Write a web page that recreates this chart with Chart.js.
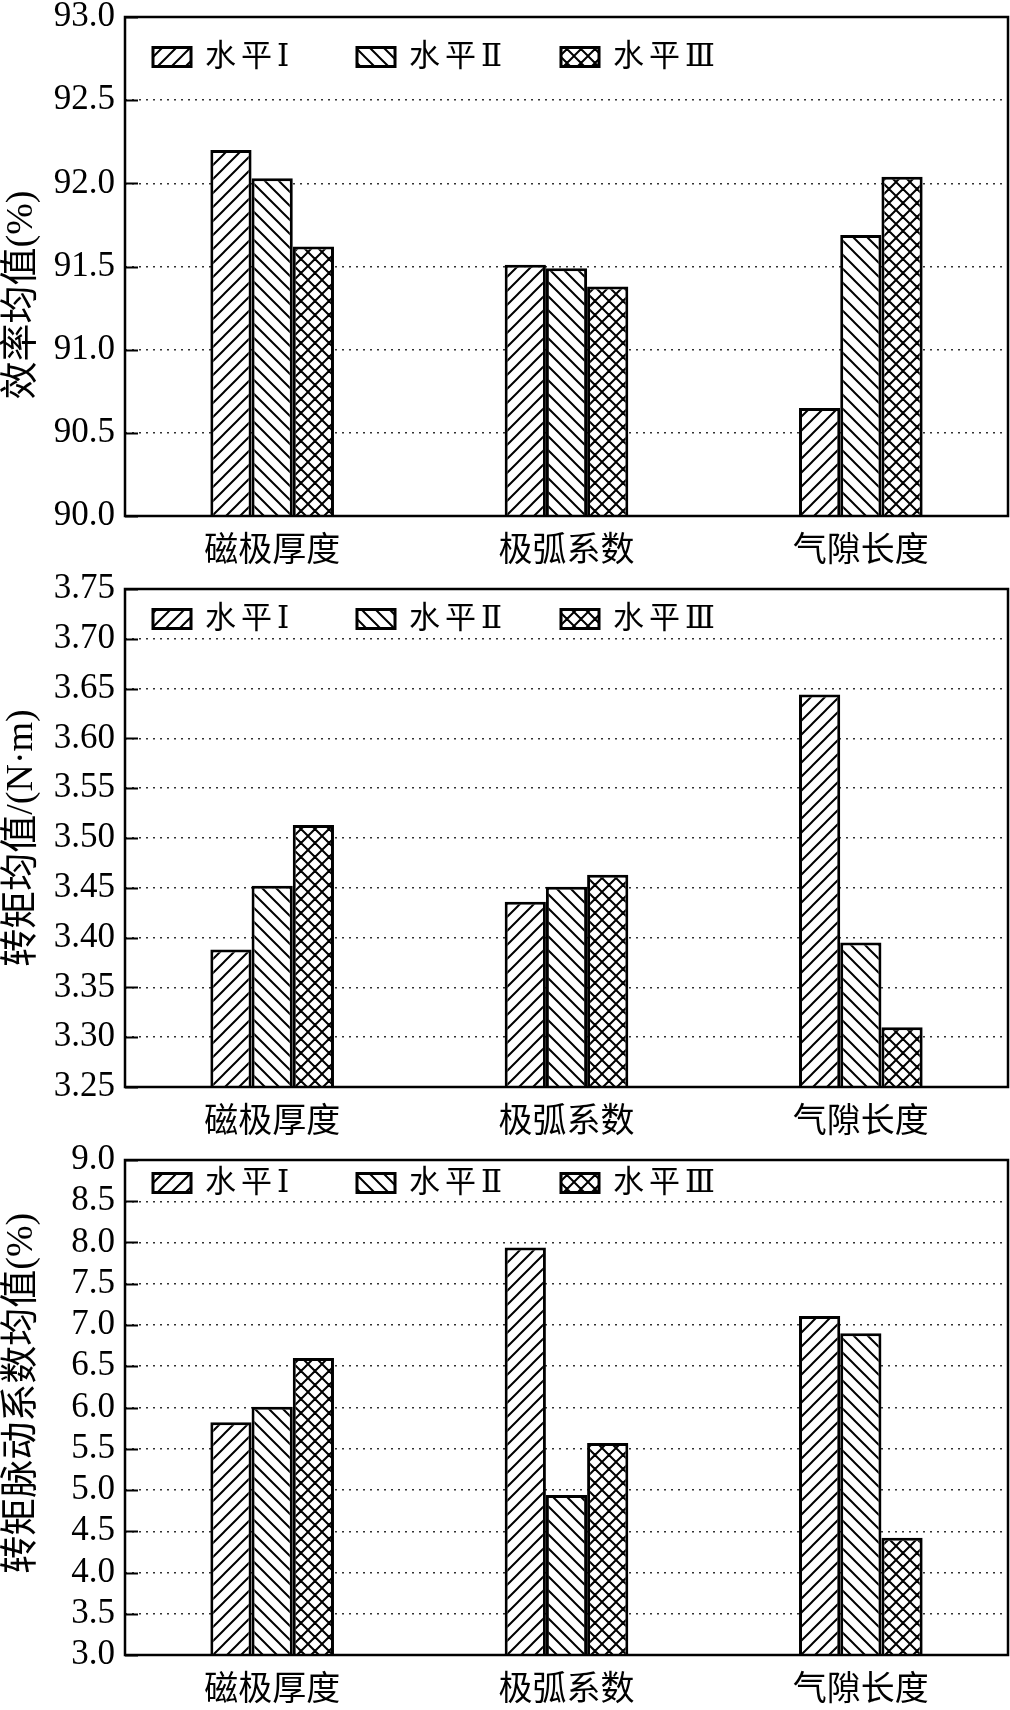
<!DOCTYPE html>
<html>
<head>
<meta charset="utf-8">
<script src="https://cdn.jsdelivr.net/npm/chart.js@4.4.1/dist/chart.umd.min.js"></script>
<style>
  body { margin: 0; background: #fff; }
  .panel { width: 1010px; height: 570px; }
  canvas { display: block; }
</style>
</head>
<body>
<div class="panel"><canvas id="effChart" width="1010" height="570"></canvas></div>
<div class="panel"><canvas id="torqueChart" width="1010" height="570"></canvas></div>
<div class="panel"><canvas id="rippleChart" width="1010" height="570"></canvas></div>
<script>
// categories and levels
const categories = ['磁极厚度', '极弧系数', '气隙长度'];
const levels = ['水平Ⅰ', '水平Ⅱ', '水平Ⅲ'];

// efficiency mean (%)
const effLevel1 = [92.20, 91.51, 90.65];
const effLevel2 = [92.03, 91.49, 91.69];
const effLevel3 = [91.62, 91.38, 92.04];

// torque mean (N·m)
const torqueLevel1 = [3.388, 3.436, 3.644];
const torqueLevel2 = [3.452, 3.451, 3.395];
const torqueLevel3 = [3.513, 3.463, 3.310];

// torque ripple mean (%)
const rippleLevel1 = [5.82, 7.94, 7.11];
const rippleLevel2 = [6.01, 4.94, 6.90];
const rippleLevel3 = [6.60, 5.57, 4.42];

const serif = "'Liberation Serif', 'DejaVu Serif', 'Noto Sans CJK SC', serif";
const cjk = "'Noto Sans CJK SC', 'Liberation Serif', sans-serif";

// hatch fills
function makeHatch(type) {
    const s = 14;
    const c = document.createElement('canvas');
    c.width = s; c.height = s;
    const g = c.getContext('2d');
    g.fillStyle = '#fff';
    g.fillRect(0, 0, s, s);
    g.strokeStyle = '#000';
    g.lineWidth = 2;
    g.beginPath();
    if (type === '/' || type === 'x') {
        g.moveTo(0, s); g.lineTo(s, 0);
        g.moveTo(-s / 2, s / 2); g.lineTo(s / 2, -s / 2);
        g.moveTo(s / 2, s * 1.5); g.lineTo(s * 1.5, s / 2);
    }
    if (type === '\\' || type === 'x') {
        g.moveTo(0, 0); g.lineTo(s, s);
        g.moveTo(-s / 2, s / 2); g.lineTo(s / 2, s * 1.5);
        g.moveTo(s / 2, -s / 2); g.lineTo(s * 1.5, s / 2);
    }
    g.stroke();
    return g.createPattern(c, 'repeat');
}
const hatches = [makeHatch('/'), makeHatch('\\'), makeHatch('x')];

// frame + inward ticks + legend inside plot
const framePlugin = {
    id: 'frame',
    afterDatasetsDraw(chart, args, opts) {
        const ctx = chart.ctx;
        const a = chart.chartArea;
        const y = chart.scales.y;
        ctx.save();
        ctx.strokeStyle = '#000';
        ctx.lineWidth = 2;
        y.ticks.forEach(t => {
            const py = Math.round(y.getPixelForValue(t.value)) + 0.5;
            ctx.beginPath();
            ctx.moveTo(a.left, py);
            ctx.lineTo(a.left + 13, py);
            ctx.stroke();
        });
        ctx.lineWidth = 2.5;
        ctx.strokeRect(a.left, a.top, a.right - a.left, a.bottom - a.top);

        // legend
        const cy = a.top + opts.legendY;
        ctx.font = '31px ' + serif;
        ctx.letterSpacing = '5px';
        ctx.textBaseline = 'middle';
        chart.data.datasets.forEach((ds, i) => {
            const bx = a.left + 28 + i * 204;
            ctx.fillStyle = ds.backgroundColor;
            ctx.fillRect(bx, cy - 9.5, 38, 19);
            ctx.lineWidth = 3;
            ctx.strokeRect(bx, cy - 9.5, 38, 19);
            ctx.fillStyle = '#000';
            ctx.fillText(ds.label, bx + 52, cy + 1);
        });
        ctx.restore();
    }
};

function buildChart(id, series, yMin, yMax, step, digits, yTitle, top, bottomH, legendY) {
    const ctx = document.getElementById(id).getContext('2d');
    return new Chart(ctx, {
        type: 'bar',
        data: {
            labels: categories,
            datasets: series.map((vals, i) => ({
                label: levels[i],
                data: vals,
                backgroundColor: hatches[i],
                borderColor: '#000',
                borderWidth: 3,
                borderSkipped: 'bottom'
            }))
        },
        options: {
            responsive: false,
            devicePixelRatio: 1,
            animation: false,
            categoryPercentage: 0.42,
            barPercentage: 1.0,
            layout: { padding: { top: top, right: 2, left: 0, bottom: 0 } },
            plugins: {
                legend: { display: false },
                tooltip: { enabled: false },
                frame: { legendY: legendY }
            },
            scales: {
                x: {
                    grid: { display: false },
                    border: { display: false },
                    ticks: {
                        color: '#000',
                        font: { family: cjk, size: 34, lineHeight: 1 },
                        padding: 7,
                        maxRotation: 0
                    },
                    afterFit(scale) {
                        scale.height = bottomH;
                        scale.paddingLeft = 0;
                        scale.paddingRight = 0;
                    }
                },
                y: {
                    min: yMin,
                    max: yMax,
                    border: { display: false, dash: [2, 5] },
                    grid: {
                        color: '#333',
                        lineWidth: 1.5,
                        drawTicks: false
                    },
                    ticks: {
                        stepSize: step,
                        color: '#000',
                        padding: 10,
                        font: { family: serif, size: 35, lineHeight: 1 },
                        callback: v => Number(v).toFixed(digits)
                    },
                    title: {
                        display: true,
                        text: yTitle,
                        color: '#000',
                        font: { family: serif, size: 38, lineHeight: 1.1 },
                        padding: { top: 1, bottom: 0 }
                    },
                    afterFit(scale) {
                        scale.width = 125;
                        scale.paddingTop = 0;
                        scale.paddingBottom = 0;
                    }
                }
            }
        },
        plugins: [framePlugin]
    });
}

buildChart('effChart', [effLevel1, effLevel2, effLevel3], 90, 93, 0.5, 1,
    '效率均值(%)      ', 17, 54, 40);
buildChart('torqueChart', [torqueLevel1, torqueLevel2, torqueLevel3], 3.25, 3.75, 0.05, 2,
    '转矩均值/(N·m)', 19, 53, 30);
buildChart('rippleChart', [rippleLevel1, rippleLevel2, rippleLevel3], 3, 9, 0.5, 1,
    '   转矩脉动系数均值(%)', 20, 55, 23);
</script>
</body>
</html>
